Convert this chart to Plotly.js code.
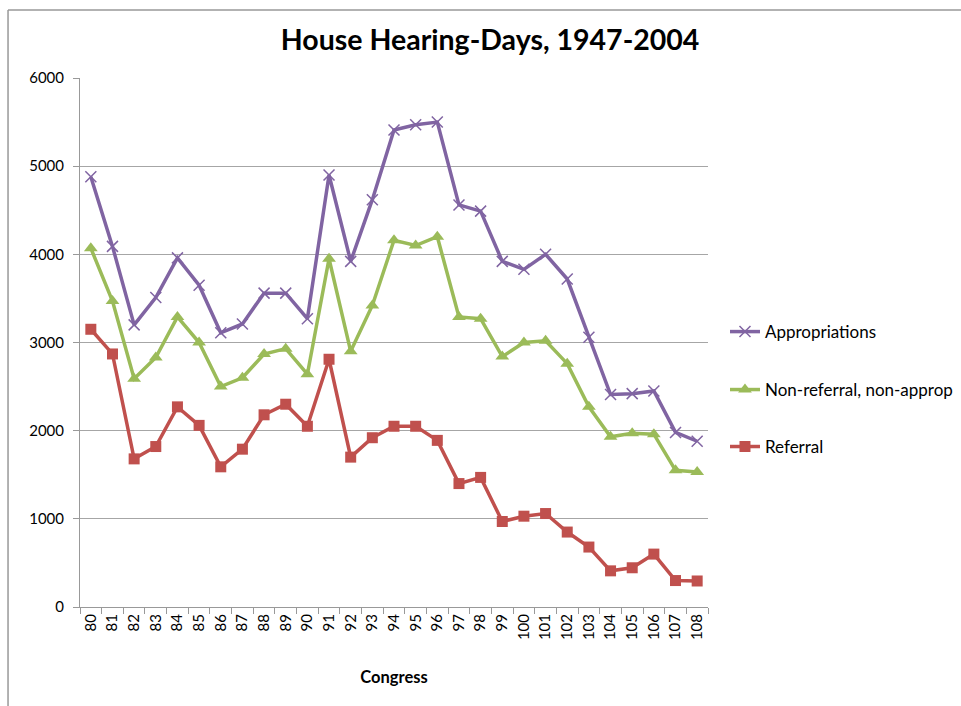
<!DOCTYPE html>
<html>
<head>
<meta charset="utf-8">
<script src="https://cdn.plot.ly/plotly-3.0.1.min.js"></script>
<style>
html,body{margin:0;padding:0;background:#fff;}
#chart{width:961px;height:706px;}
</style>
</head>
<body>
<div id="chart"></div>
<script>
const congresses = ["80","81","82","83","84","85","86","87","88","89","90","91","92","93","94","95","96","97","98","99","100","101","102","103","104","105","106","107","108"];
const appropriations = [4880,4090,3200,3510,3960,3650,3110,3210,3560,3560,3270,4900,3920,4620,5410,5470,5500,4560,4490,3920,3830,4000,3720,3060,2410,2420,2450,1980,1880];
const nonReferral = [4070,3470,2590,2830,3290,3000,2500,2600,2870,2930,2640,3950,2900,3420,4160,4100,4200,3290,3270,2840,3000,3020,2760,2270,1930,1970,1960,1550,1530];
const referral = [3150,2870,1680,1820,2270,2060,1590,1790,2180,2300,2050,2810,1700,1920,2050,2050,1890,1400,1470,970,1030,1060,850,680,410,445,600,300,295];
const seriesNames = ["Appropriations","Non-referral, non-approp","Referral"];

const font = "Lato, 'Open Sans', 'DejaVu Sans', sans-serif";
const traces = [
  {x: congresses, y: appropriations, name: seriesNames[0], type: "scatter", mode: "lines+markers",
   line: {color: "#8064A2", width: 3.5},
   marker: {symbol: "x-thin-open", size: 11, color: "#8064A2", line: {color: "#8064A2", width: 1.5}},
   legend: "legend"},
  {x: congresses, y: nonReferral, name: seriesNames[1], type: "scatter", mode: "lines+markers",
   line: {color: "#9BBB59", width: 3.5},
   marker: {symbol: "triangle-up", size: 12, color: "#9BBB59"},
   legend: "legend2"},
  {x: congresses, y: referral, name: seriesNames[2], type: "scatter", mode: "lines+markers",
   line: {color: "#C0504D", width: 3.5},
   marker: {symbol: "square", size: 11, color: "#C0504D"},
   legend: "legend3"}
];

const legendBase = {xref: "container", yref: "container", xanchor: "left", yanchor: "middle",
                    font: {family: font, size: 17, color: "#000"}, bgcolor: "rgba(0,0,0,0)"};
const layout = {
  width: 961, height: 706,
  margin: {l: 80, r: 253, t: 78, b: 99},
  paper_bgcolor: "#fff", plot_bgcolor: "#fff",
  title: {text: "<b>House Hearing-Days, 1947-2004</b>", font: {family: font, size: 28.5, color: "#000"},
          x: 0.51, xanchor: "center", y: 0.943, yanchor: "middle"},
  xaxis: {type: "category", range: [-0.5, 28.5], showgrid: false, showline: true, linecolor: "#999", linewidth: 1,
          ticks: "outside", tickson: "boundaries", ticklen: 6, tickcolor: "#999", tickangle: -90,
          tickfont: {family: font, size: 15, color: "#000"},
          title: {text: "<b>Congress</b>", font: {family: font, size: 16.5, color: "#000"}, standoff: 32}},
  yaxis: {range: [0, 6000], dtick: 1000, showgrid: true, gridcolor: "#a6a6a6", gridwidth: 1,
          showline: true, linecolor: "#999", ticks: "outside", ticklen: 6, tickcolor: "#999",
          tickfont: {family: font, size: 15, color: "#000"}, zeroline: false, ticklabelstandoff: 6},
  showlegend: true,
  legend: Object.assign({x: 0.7544, y: 0.5297}, legendBase),
  legend2: Object.assign({x: 0.7544, y: 0.4476}, legendBase),
  legend3: Object.assign({x: 0.7544, y: 0.3669}, legendBase),
  shapes: [
    {type: "line", xref: "paper", yref: "paper", x0: -0.1146, x1: 1.5, y0: 1.1285, y1: 1.1285, line: {color: "#999", width: 1.5}},
    {type: "line", xref: "paper", yref: "paper", x0: -0.1146, x1: -0.1146, y0: 1.1285, y1: -0.2, line: {color: "#999", width: 1.5}}
  ]
};
Plotly.newPlot("chart", traces, layout, {displayModeBar: false, staticPlot: true});
</script>
</body>
</html>
